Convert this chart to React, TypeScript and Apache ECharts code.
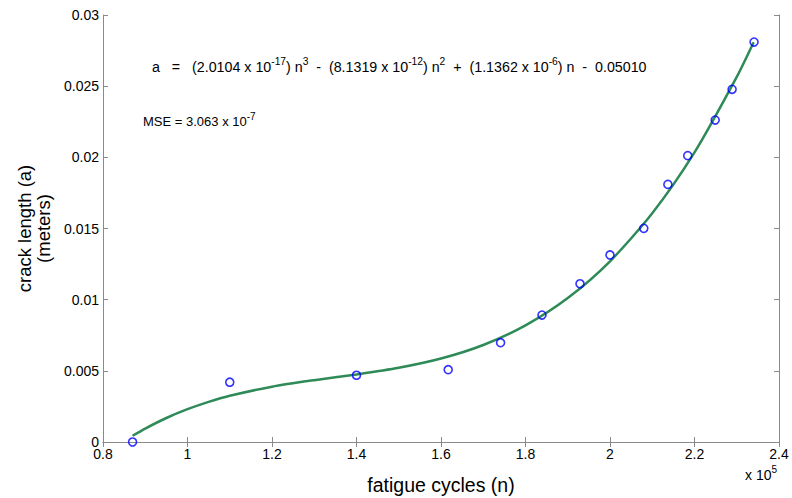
import React, { useEffect, useRef } from "react";
import * as echarts from "echarts";

// fatigue cycles (n) of measured points
const pointN = [87000, 110000, 140000, 161700, 174100, 183900, 192900, 200000, 208000, 213700, 218400, 224900, 228900, 234100];
// crack length (a) in meters of measured points
const pointA = [0.0, 0.0042, 0.00469, 0.00508, 0.00698, 0.00892, 0.01112, 0.01314, 0.01501, 0.0181, 0.02012, 0.02262, 0.02478, 0.0281];

// fitted curve
const curveN = [87000, 90000, 95000, 100000, 105000, 110000, 120000, 130000, 140000, 150000, 160000, 170000, 180000, 190000, 200000, 210000, 220000, 230000, 234000];
const curveA = [0.000438, 0.000946, 0.001686, 0.002305, 0.00282, 0.003244, 0.003885, 0.004345, 0.004748, 0.005213, 0.005861, 0.006813, 0.008189, 0.010109, 0.012696, 0.016068, 0.020347, 0.025653, 0.02809];

const xMin = 80000;
const xMax = 240000;
const xStep = 20000;
const yMin = 0;
const yMax = 0.03;
const yStep = 0.005;

const FONT = "Liberation Sans, Arial, sans-serif";
const AXIS_COLOR = "#8a8a8a";

export default function App() {
  const ref = useRef<HTMLDivElement>(null);
  useEffect(() => {
    if (!ref.current) return;
    const chart = echarts.init(ref.current, undefined, { renderer: "svg" });
    const fmtX = (v: number) => String(parseFloat((v / 1e5).toFixed(3)));
    const fmtY = (v: number) => String(parseFloat(v.toFixed(4)));
    const baseAxisLine = { show: true, lineStyle: { color: AXIS_COLOR, width: 1 } };
    chart.setOption({
      animation: false,
      backgroundColor: "#ffffff",
      textStyle: { fontFamily: FONT },
      grid: { left: 103, right: 13, top: 15, bottom: 56, containLabel: false, outerBoundsMode: "none" },
      xAxis: [
        {
          type: "value",
          min: xMin,
          max: xMax,
          interval: xStep,
          position: "bottom",
          axisLine: baseAxisLine,
          axisTick: { show: true, inside: true, length: 5, lineStyle: { color: AXIS_COLOR } },
          splitLine: { show: false },
          axisLabel: { formatter: fmtX, color: "#000", fontSize: 14, margin: 5, fontFamily: FONT },
          name: "fatigue cycles (n)",
          nameLocation: "middle",
          nameGap: 33,
          nameTextStyle: { color: "#000", fontSize: 19.5, fontFamily: FONT },
        },
        {
          type: "value",
          min: xMin,
          max: xMax,
          interval: xStep,
          position: "top",
          axisLine: baseAxisLine,
          axisTick: { show: true, inside: true, length: 5, lineStyle: { color: AXIS_COLOR } },
          splitLine: { show: false },
          axisLabel: { show: false },
        },
      ],
      yAxis: [
        {
          type: "value",
          min: yMin,
          max: yMax,
          interval: yStep,
          position: "left",
          axisLine: baseAxisLine,
          axisTick: { show: true, inside: true, length: 5, lineStyle: { color: AXIS_COLOR } },
          splitLine: { show: false },
          axisLabel: { formatter: fmtY, color: "#000", fontSize: 14, margin: 4, fontFamily: FONT },
          name: "crack length (a)\n(meters)",
          nameLocation: "middle",
          nameGap: 50,
          nameRotate: 90,
          nameTextStyle: { color: "#000", fontSize: 18.5, lineHeight: 19, fontFamily: FONT },
        },
        {
          type: "value",
          min: yMin,
          max: yMax,
          interval: yStep,
          position: "right",
          axisLine: baseAxisLine,
          axisTick: { show: true, inside: true, length: 5, lineStyle: { color: AXIS_COLOR } },
          splitLine: { show: false },
          axisLabel: { show: false },
        },
      ],
      series: [
        {
          type: "line",
          data: curveN.map((n, i) => [n, curveA[i]]),
          smooth: 0.25,
          showSymbol: false,
          symbol: "none",
          lineStyle: { color: "#2e8b57", width: 2.5 },
          z: 2,
        },
        {
          type: "scatter",
          data: pointN.map((n, i) => [n, pointA[i]]),
          symbol: "circle",
          symbolSize: 8,
          itemStyle: { color: "rgba(0,0,0,0)", borderColor: "#0000ff", borderWidth: 1.6 },
          z: 3,
        },
      ],
      graphic: [
        {
          type: "text",
          left: 152,
          top: 56,
          style: {
            text:
              "{n|a   =   (2.0104 x 10}{s|-17}{n|) n}{s|3}{n|  -  (8.1319 x 10}{s|-12}{n|) n}{s|2}{n|  +  (1.1362 x 10}{s|-6}{n|) n  -  0.05010}",
            rich: {
              n: { fontSize: 14.25, fontFamily: FONT, fill: "#000", lineHeight: 18, verticalAlign: "bottom" },
              s: { fontSize: 10.25, fontFamily: FONT, fill: "#000", lineHeight: 18, verticalAlign: "top" },
            },
          },
        },
        {
          type: "text",
          left: 143,
          top: 111,
          style: {
            text: "{n|MSE = 3.063 x 10}{s|-7}",
            rich: {
              n: { fontSize: 13, fontFamily: FONT, fill: "#000", lineHeight: 17, verticalAlign: "bottom" },
              s: { fontSize: 10, fontFamily: FONT, fill: "#000", lineHeight: 17, verticalAlign: "top" },
            },
          },
        },
        {
          type: "text",
          left: 745,
          top: 464,
          style: {
            text: "{n|x 10}{s|5}",
            rich: {
              n: { fontSize: 14, fontFamily: FONT, fill: "#000", lineHeight: 18, verticalAlign: "bottom" },
              s: { fontSize: 10, fontFamily: FONT, fill: "#000", lineHeight: 18, verticalAlign: "top" },
            },
          },
        },
      ],
    });
    return () => chart.dispose();
  }, []);
  return <div ref={ref} style={{ width: 792, height: 498, position: "absolute", left: 0, top: 0 }} />;
}
